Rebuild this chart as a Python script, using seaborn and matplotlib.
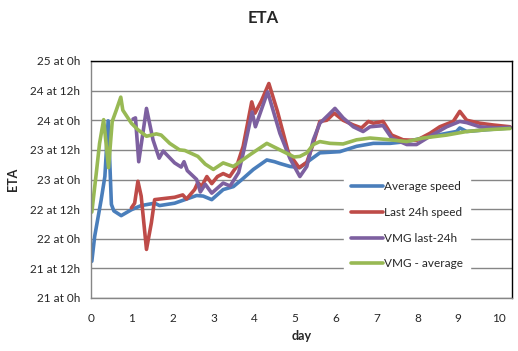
import matplotlib
matplotlib.use("Agg")
import matplotlib.pyplot as plt
import seaborn as sns
import pandas as pd

# ---- data ----
blue_x = [0.02, 0.09, 0.25, 0.34, 0.42, 0.46, 0.50, 0.56, 0.74, 0.99, 1.23, 1.56, 1.68, 2.05, 2.30, 2.59, 2.75,
          2.96, 3.24, 3.49, 3.70, 3.98, 4.31, 4.50, 4.63, 4.88, 5.12, 5.37, 5.61, 6.10, 6.51, 6.92, 7.33, 7.74,
          8.14, 8.72, 8.96, 9.04, 9.21, 9.70, 10.27]
blue_y = [21.62, 22.04, 22.66, 23.05, 23.99, 23.30, 22.58, 22.47, 22.39, 22.49, 22.56, 22.60, 22.56, 22.60, 22.66,
          22.73, 22.72, 22.66, 22.83, 22.88, 23.00, 23.17, 23.33, 23.30, 23.27, 23.22, 23.20, 23.33, 23.45, 23.47,
          23.56, 23.61, 23.61, 23.64, 23.70, 23.78, 23.81, 23.87, 23.81, 23.84, 23.87]

red_x = [0.99, 1.07, 1.15, 1.23, 1.36, 1.48, 1.56, 1.68, 2.05, 2.25, 2.34, 2.54, 2.62, 2.71, 2.84, 2.96, 3.10,
         3.24, 3.40, 3.57, 3.73, 3.94, 4.02, 4.18, 4.36, 4.57, 4.84, 5.10, 5.29, 5.45, 5.61, 5.78, 5.96, 6.18,
         6.43, 6.63, 6.80, 6.92, 7.16, 7.37, 7.65, 7.98, 8.31, 8.55, 8.88, 9.04, 9.21, 9.53, 9.86, 10.27]
red_y = [22.52, 22.60, 22.97, 22.72, 21.82, 22.27, 22.66, 22.67, 22.70, 22.74, 22.67, 22.83, 22.95, 22.88, 23.05,
         22.93, 23.05, 23.10, 23.05, 23.22, 23.56, 24.31, 24.12, 24.33, 24.62, 24.15, 23.45, 23.20, 23.29, 23.61,
         23.98, 24.00, 24.12, 24.00, 23.92, 23.87, 23.98, 23.95, 23.98, 23.75, 23.67, 23.66, 23.78, 23.89, 23.98,
         24.15, 24.00, 23.95, 23.92, 23.89]

purple_x = [1.03, 1.09, 1.17, 1.36, 1.52, 1.67, 1.77, 2.05, 2.21, 2.28, 2.36, 2.59, 2.68, 2.80, 2.96, 3.24, 3.41,
            3.62, 3.75, 3.95, 4.03, 4.33, 4.63, 4.88, 5.12, 5.29, 5.45, 5.61, 5.82, 5.98, 6.18, 6.43, 6.67, 6.84,
            7.16, 7.37, 7.74, 7.98, 8.31, 8.72, 9.04, 9.21, 9.53, 9.94, 10.27]
purple_y = [24.02, 24.04, 23.30, 24.20, 23.67, 23.36, 23.48, 23.28, 23.21, 23.30, 23.15, 23.00, 22.79, 22.92,
            22.77, 22.94, 22.89, 23.12, 23.50, 24.14, 23.89, 24.48, 23.78, 23.35, 23.05, 23.22, 23.67, 23.95,
            24.09, 24.20, 24.04, 23.89, 23.81, 23.89, 23.91, 23.70, 23.59, 23.59, 23.73, 23.89, 23.98, 23.96,
            23.89, 23.87, 23.88]

green_x = [0.02, 0.13, 0.21, 0.31, 0.43, 0.52, 0.62, 0.73, 0.78, 0.99, 1.15, 1.36, 1.60, 1.72, 1.93, 2.17, 2.30,
           2.62, 2.80, 3.00, 3.24, 3.49, 3.90, 4.31, 4.63, 4.98, 5.12, 5.29, 5.45, 5.61, 5.86, 6.18, 6.51, 6.84,
           7.33, 7.74, 8.14, 8.72, 9.21, 9.70, 10.27]
green_y = [22.45, 23.11, 23.61, 24.01, 23.20, 23.98, 24.17, 24.39, 24.17, 23.95, 23.84, 23.73, 23.77, 23.75,
           23.61, 23.50, 23.49, 23.39, 23.26, 23.17, 23.28, 23.22, 23.42, 23.61, 23.50, 23.38, 23.39, 23.45,
           23.59, 23.64, 23.61, 23.60, 23.67, 23.70, 23.67, 23.64, 23.70, 23.75, 23.81, 23.84, 23.86]

series_names = ["Average speed", "Last 24h speed", "VMG last-24h", "VMG - average"]
colors = ["#4A7EBB", "#BE4B48", "#7D60A0", "#98B954"]

y_ticks = [21.0, 21.5, 22.0, 22.5, 23.0, 23.5, 24.0, 24.5, 25.0]
y_tick_labels = ["21 at 0h", "21 at 12h", "22 at 0h", "22 at 12h", "23 at 0h",
                 "23 at 12h", "24 at 0h", "24 at 12h", "25 at 0h"]
x_ticks = list(range(0, 11))

# ---- build long table ----
frames = []
for name, xs, ys in zip(series_names, [blue_x, red_x, purple_x, green_x],
                        [blue_y, red_y, purple_y, green_y]):
    frames.append(pd.DataFrame({"day": xs, "eta": ys, "series": name}))
df = pd.concat(frames, ignore_index=True)

sns.set_theme(style="white")
plt.rcParams["font.family"] = ["Lato", "DejaVu Sans"]

fig = plt.figure(figsize=(5.18, 3.51), dpi=100)
ax = fig.add_axes([91 / 518, 53 / 351, 421 / 518, 237 / 351])

for y in y_ticks:
    ax.axhline(y, color="#868686", lw=1.0, zorder=0)

sns.lineplot(data=df, x="day", y="eta", hue="series", hue_order=series_names,
             palette=colors, estimator=None, sort=True, lw=2.6, ax=ax,
             solid_joinstyle="round", solid_capstyle="round")

ax.set_xlim(0, 10.32)
ax.set_ylim(21.0, 25.0)
ax.set_xticks(x_ticks)
ax.set_xticklabels([str(t) for t in x_ticks], fontsize=8.5)
ax.set_yticks(y_ticks)
ax.set_yticklabels(y_tick_labels, fontsize=8.5)
ax.tick_params(axis="x", direction="out", length=5, color="#868686", width=1, pad=6)
ax.tick_params(axis="y", direction="out", length=4, color="#868686", width=1, pad=4)

for s in ["left", "bottom"]:
    ax.spines[s].set_color("#868686")
    ax.spines[s].set_linewidth(1)
for s in ["top", "right"]:
    ax.spines[s].set_color("black")
    ax.spines[s].set_linewidth(1)

ax.set_xlabel("day", fontsize=9, fontweight="bold", labelpad=4)
ax.set_ylabel("ETA", fontsize=9, fontweight="bold", labelpad=8)
fig.text(263 / 518, 1 - 18 / 351, "ETA", ha="center", va="center", fontsize=12, fontweight="bold")

leg = ax.legend(loc="upper left", bbox_to_anchor=(0.60, 0.523), frameon=True, fontsize=8.5,
                handlelength=2.7, handletextpad=0.1, labelspacing=1.25, borderpad=0.6,
                fancybox=False, borderaxespad=0)
leg.get_frame().set_facecolor("white")
leg.get_frame().set_edgecolor("white")
leg.get_frame().set_alpha(1)
for h in leg.get_lines():
    h.set_linewidth(2.6)

fig.savefig("out.png", dpi=100)
